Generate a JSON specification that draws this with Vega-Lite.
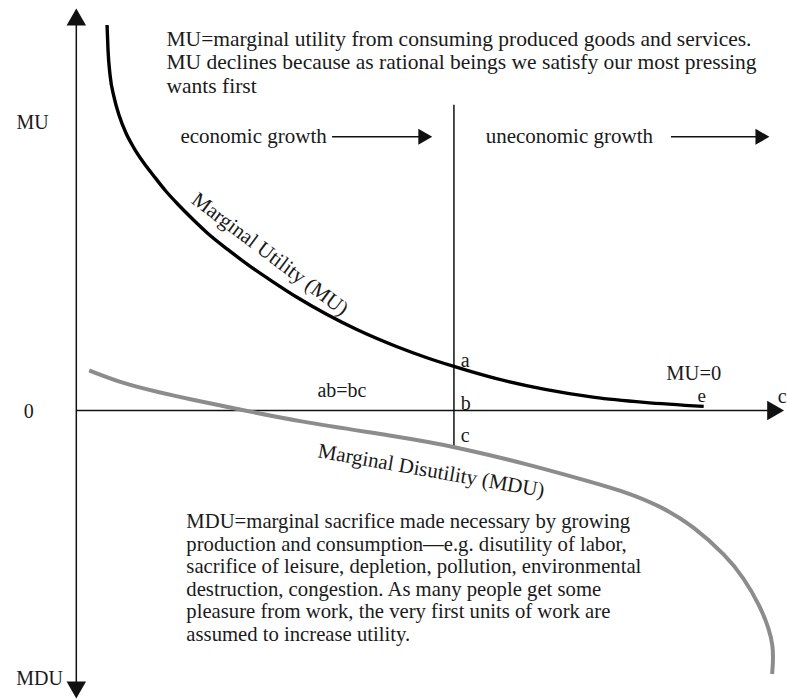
{
  "$schema": "https://vega.github.io/schema/vega-lite/v6.json",
  "width": 787,
  "height": 699,
  "autosize": {"type": "fit", "contains": "padding"},
  "padding": 0,
  "background": "white",
  "config": {"view": {"stroke": null}},
  "encoding": {
    "x": {"field": "x", "type": "quantitative", "scale": {"domain": [-11, 101.43], "nice": false, "zero": false}, "axis": null},
    "y": {"field": "y", "type": "quantitative", "scale": {"domain": [-72, 102.75], "nice": false, "zero": false}, "axis": null}
  },
  "layer": [
    {
      "data": {"values": [
        {"x": 0, "y": -69.5, "x2": 0, "y2": 98},
        {"x": 0, "y": 0, "x2": 100.5, "y2": 0},
        {"x": 54.43, "y": -9, "x2": 54.43, "y2": 76.5},
        {"x": 36.86, "y": 68.5, "x2": 50.14, "y2": 68.5},
        {"x": 85.71, "y": 68.5, "x2": 98.8, "y2": 68.5}
      ]},
      "mark": {"type": "rule", "color": "#111111", "strokeWidth": 1.5},
      "encoding": {"x2": {"field": "x2"}, "y2": {"field": "y2"}}
    },
    {
      "data": {"values": [
        {"x": 0, "y": 98.5, "shape": "triangle-up", "size": 380},
        {"x": 0, "y": -70, "shape": "triangle-down", "size": 380},
        {"x": 100.8, "y": 0, "shape": "triangle-right", "size": 380},
        {"x": 50.3, "y": 68.5, "shape": "triangle-right", "size": 260},
        {"x": 98.9, "y": 68.5, "shape": "triangle-right", "size": 260}
      ]},
      "mark": {"type": "point", "filled": true, "color": "#111111", "opacity": 1, "strokeWidth": 0},
      "encoding": {
        "shape": {"field": "shape", "type": "nominal", "scale": null},
        "size": {"field": "size", "type": "quantitative", "scale": null}
      }
    },
    {
      "data": {"values": [
        {"x": 4.43, "y": 96.5}, {"x": 4.57, "y": 90.25}, {"x": 4.86, "y": 84}, {"x": 5.43, "y": 78.5},
        {"x": 6.14, "y": 74}, {"x": 7.14, "y": 69.5}, {"x": 8.29, "y": 65.75}, {"x": 9.71, "y": 62},
        {"x": 11.14, "y": 58.75}, {"x": 12.86, "y": 55}, {"x": 14.71, "y": 51.5}, {"x": 16.86, "y": 47.75},
        {"x": 19, "y": 44.25}, {"x": 21.86, "y": 40.25}, {"x": 24.71, "y": 36.5}, {"x": 28.29, "y": 32.25},
        {"x": 31.86, "y": 28.25}, {"x": 36.14, "y": 24}, {"x": 40.43, "y": 20.25}, {"x": 46.14, "y": 16},
        {"x": 50.43, "y": 13.25}, {"x": 54.43, "y": 11}, {"x": 60.43, "y": 8}, {"x": 67.57, "y": 5.25},
        {"x": 74.71, "y": 3.25}, {"x": 81.86, "y": 2}, {"x": 90.43, "y": 1}
      ]},
      "mark": {"type": "line", "color": "#000000", "strokeWidth": 3.4, "interpolate": "monotone"},
      "encoding": {}
    },
    {
      "data": {"values": [
        {"o": 1, "x": 1.86, "y": 10}, {"o": 2, "x": 7.14, "y": 6.5}, {"o": 3, "x": 12, "y": 4.5},
        {"o": 4, "x": 16.57, "y": 2.75}, {"o": 5, "x": 21.43, "y": 1}, {"o": 6, "x": 31.86, "y": -2.75},
        {"o": 7, "x": 46.14, "y": -6.5}, {"o": 8, "x": 54.43, "y": -9}, {"o": 9, "x": 65.14, "y": -13.5},
        {"o": 10, "x": 72.86, "y": -17.25}, {"o": 11, "x": 79, "y": -20.25}, {"o": 12, "x": 84.29, "y": -24},
        {"o": 13, "x": 89, "y": -29}, {"o": 14, "x": 93.71, "y": -36.5}, {"o": 15, "x": 96.14, "y": -41.75},
        {"o": 16, "x": 98.57, "y": -49}, {"o": 17, "x": 99.86, "y": -54.75}, {"o": 18, "x": 100.43, "y": -59},
        {"o": 19, "x": 100.43, "y": -63}, {"o": 20, "x": 100.29, "y": -66}
      ]},
      "mark": {"type": "line", "color": "#8c8c8c", "strokeWidth": 4, "interpolate": "basis"},
      "encoding": {"order": {"field": "o", "type": "quantitative"}}
    },
    {
      "data": {"values": [
        {"x": 13, "y": 92.75, "t": "MU=marginal utility from consuming produced goods and services.", "s": 21.5},
        {"x": 13, "y": 87, "t": "MU declines because as rational beings we satisfy our most pressing", "s": 21.5},
        {"x": 13, "y": 81, "t": "wants first", "s": 21.5},
        {"x": 15, "y": 68.5, "t": "economic growth", "s": 21},
        {"x": 59, "y": 68.5, "t": "uneconomic growth", "s": 21},
        {"x": 55.43, "y": 12.25, "t": "a", "s": 20},
        {"x": 55.43, "y": 1.5, "t": "b", "s": 20},
        {"x": 55.43, "y": -6.5, "t": "c", "s": 20},
        {"x": 101.1, "y": 3.25, "t": "c", "s": 20},
        {"x": 15.86, "y": -28, "t": "MDU=marginal sacrifice made necessary by growing", "s": 20.7},
        {"x": 15.86, "y": -33.75, "t": "production and consumption—e.g. disutility of labor,", "s": 20.7},
        {"x": 15.86, "y": -39.25, "t": "sacrifice of leisure, depletion, pollution, environmental", "s": 20.7},
        {"x": 15.86, "y": -45, "t": "destruction, congestion. As many people get some", "s": 20.7},
        {"x": 15.86, "y": -50.5, "t": "pleasure from work, the very first units of work are", "s": 20.7},
        {"x": 15.86, "y": -56.25, "t": "assumed to increase utility.", "s": 20.7}
      ]},
      "mark": {"type": "text", "align": "left", "baseline": "middle", "font": "Liberation Serif", "color": "#1a1a1a"},
      "encoding": {
        "text": {"field": "t"},
        "size": {"field": "s", "type": "quantitative", "scale": null}
      }
    },
    {
      "data": {"values": [
        {"x": -6.29, "y": 72, "t": "MU", "s": 20, "a": 0},
        {"x": -6.86, "y": -0.5, "t": "0", "s": 20, "a": 0},
        {"x": -5.29, "y": -67.25, "t": "MDU", "s": 20, "a": 0},
        {"x": 38.29, "y": 4.75, "t": "ab=bc", "s": 20, "a": 0},
        {"x": 89, "y": 9.1, "t": "MU=0", "s": 20.5, "a": 0},
        {"x": 90.14, "y": 3.6, "t": "e", "s": 19, "a": 0},
        {"x": 27.86, "y": 39, "t": "Marginal Utility (MU)", "s": 21, "a": 37},
        {"x": 51.14, "y": -15.25, "t": "Marginal Disutility (MDU)", "s": 21, "a": 10}
      ]},
      "mark": {"type": "text", "align": "center", "baseline": "middle", "font": "Liberation Serif", "color": "#1a1a1a"},
      "encoding": {
        "text": {"field": "t"},
        "size": {"field": "s", "type": "quantitative", "scale": null},
        "angle": {"field": "a", "type": "quantitative", "scale": null}
      }
    }
  ]
}
